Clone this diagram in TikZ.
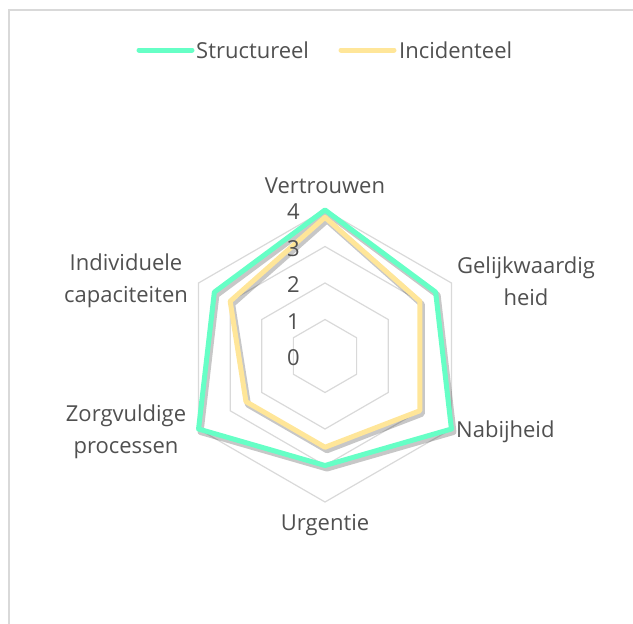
\documentclass[tikz,border=0pt]{standalone}
\usepackage{fontspec}
\setmainfont{Open Sans}
\usepackage{tikz}

\definecolor{struc}{HTML}{66FFC6}
\definecolor{incid}{HTML}{FFE699}
\definecolor{txtgray}{HTML}{505050}
\definecolor{gridgray}{HTML}{D9D9D9}

\begin{document}
\begin{tikzpicture}
  [x=1pt, y=-1pt,
   every node/.style={text=txtgray, font=\fontsize{22}{31.5}\selectfont, inner sep=0pt},
   ring/.style={draw=gridgray, line width=1.2pt},
   serie/.style={line width=5pt, line join=round},
   shade/.style={draw=black, opacity=.22, line width=6pt, line join=round, shift={(2,3)}}]
  \useasboundingbox (0,0) rectangle (633,624);
  \draw[gridgray, line width=1.5pt] (9,624) -- (9,10) -- (633,10);
  \def\u{36.5}

  % legend
  \coordinate (s1) at (139,50);
  \coordinate (s2) at (192,50);
  \coordinate (i1) at (341,50);
  \coordinate (i2) at (394,50);
  \draw[struc, line width=5pt, line cap=round] (s1) -- (s2);
  \draw[incid, line width=5pt, line cap=round] (i1) -- (i2);
  \node[anchor=west] (ls) at (196,50) {Structureel};
  \node[anchor=west] (li) at (399,50) {Incidenteel};

  \begin{scope}[shift={(325,356)}]
    \foreach \r in {1,...,4}
      \draw[ring] (-90:\r*\u) \foreach \a in {-30,30,...,210} {-- (\a:\r*\u)} -- cycle;

    % shadows
    \draw[shade] (-90:4*\u) -- (-30:3.5*\u) -- (30:4*\u) -- (90:3*\u) -- (150:4*\u) -- (210:3.5*\u) -- cycle;
    \draw[shade] (-90:3.8*\u) -- (-30:3*\u) -- (30:3*\u) -- (90:2.5*\u) -- (150:2.5*\u) -- (210:3*\u) -- cycle;

    % series
    \draw[serie, struc] (-90:4*\u) -- (-30:3.5*\u) -- (30:4*\u) -- (90:3*\u) -- (150:4*\u) -- (210:3.5*\u) -- cycle;
    \draw[serie, incid] (-90:3.8*\u) -- (-30:3*\u) -- (30:3*\u) -- (90:2.5*\u) -- (150:2.5*\u) -- (210:3*\u) -- cycle;
  \end{scope}

  \foreach \k in {0,...,4}
    \node[anchor=east] (t\k) at (300, {358-\k*\u}) {\k};

  \node (vertr) at (325,186) {Vertrouwen};
  \node[align=center] (gelijk) at (526,281) {Gelijkwaardig\\heid};
  \node[anchor=west] (nabij) at (456,432) {Nabijheid};
  \node (urg) at (325,525) {Urgentie};
  \node[align=center] (zorg) at (126,432) {Zorgvuldige\\processen};
  \node[align=center] (indiv) at (126,281) {Individuele\\capaciteiten};
\end{tikzpicture}
\end{document}
